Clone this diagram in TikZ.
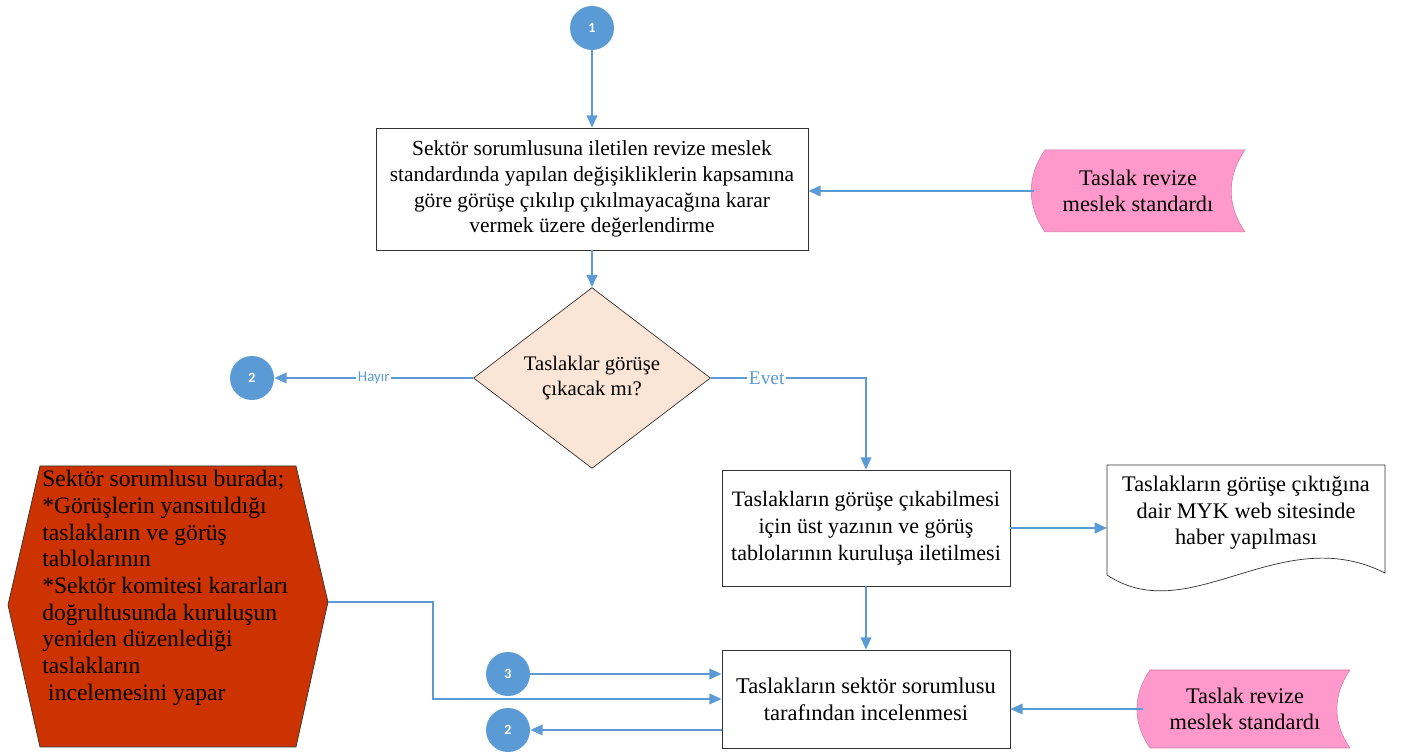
\documentclass[tikz,border=0pt]{standalone}
\usepackage{fontspec}
\setmainfont{Liberation Serif}
\setsansfont{Carlito}
\usepackage{xcolor}
\usetikzlibrary{shapes.geometric,arrows.meta}
\definecolor{flowblue}{RGB}{91,155,213}
\definecolor{draftpink}{RGB}{255,153,204}
\definecolor{askpeach}{RGB}{251,229,214}
\definecolor{noteorange}{RGB}{204,51,0}

\begin{document}
\begin{tikzpicture}[>={Triangle[length=7pt,width=6pt]}]
    \tikzstyle{process} = [rectangle, draw=black!80, fill=white, align=center, inner sep=2pt, font=\rmfamily\fontsize{12.2}{14.7}\selectfont]
    \tikzstyle{question} = [diamond, draw=black!80, fill=askpeach, align=center, inner sep=0pt, minimum width=4.74cm, minimum height=3.24cm, font=\rmfamily\fontsize{11.8}{14.7}\selectfont]
    \tikzstyle{pageref} = [circle, fill=flowblue, text=white, minimum size=0.88cm, inner sep=0pt, font=\sffamily\bfseries\fontsize{8}{9}\selectfont]
    \tikzstyle{draftbox} = [fill=draftpink, draw=draftpink!80!black, line width=0.3pt]
    \tikzstyle{plain} = [align=center, inner sep=0pt, font=\rmfamily\fontsize{12.7}{15}\selectfont]
    \tikzstyle{flow} = [draw=flowblue, line width=1.1pt, ->]

    \useasboundingbox (0,0) rectangle (28.28,15.08);

    % Main column
    \node [process, minimum width=8.64cm, minimum height=2.44cm] (review) at (11.84,11.30) {Sektör sorumlusuna iletilen revize meslek\\standardında yapılan değişikliklerin kapsamına\\göre görüşe çıkılıp çıkılmayacağına karar\\vermek üzere değerlendirme};
    \node [pageref, above of=review, node distance=3.22cm] (start) {1};
    \node [question, below of=review, node distance=3.78cm] (ask) {Taslaklar görüşe\\çıkacak mı?};
    \node [pageref, left of=ask, node distance=6.80cm] (noA) {2};
    \node [process, minimum width=5.76cm, minimum height=2.32cm, font=\rmfamily\fontsize{12.5}{15.5}\selectfont] (handover) at (17.32,4.52) {Taslakların görüşe çıkabilmesi\\için üst yazının ve görüş\\tablolarının kuruluşa iletilmesi};
    \node [process, below of=handover, node distance=3.42cm, minimum width=5.76cm, minimum height=1.96cm, font=\rmfamily\fontsize{12.8}{15.3}\selectfont] (inspect) {Taslakların sektör sorumlusu\\tarafından incelenmesi};
    \node [pageref] (back) at (10.16,1.60) {3};
    \node [pageref] (noB) at (10.16,0.48) {2};

    % Draft standard inputs
    \fill [draftbox] (20.90,12.08) -- (24.90,12.08) to[out=-125,in=125] (24.90,10.44) -- (20.90,10.44) to[out=125,in=-125] cycle;
    \node [plain] (draftA) at (22.76,11.26) {Taslak revize\\meslek standardı};
    \fill [draftbox] (23.00,1.68) -- (27.00,1.68) to[out=-125,in=125] (27.00,0.12) -- (23.00,0.12) to[out=125,in=-125] cycle;
    \node [plain] (draftB) at (24.90,0.90) {Taslak revize\\meslek standardı};

    % Web news document
    \draw [draw=black!80, fill=white] (22.14,3.58) -- (22.14,5.78) -- (27.70,5.78) -- (27.70,3.62) .. controls (25.60,4.68) and (23.80,2.48) .. cycle;
    \node [plain] (news) at (24.92,4.82) {Taslakların görüşe çıktığına\\dair MYK web sitesinde\\haber yapılması};

    % Officer note
    \draw [draw=black!80, fill=noteorange] (0.80,5.76) -- (5.92,5.76) -- (6.56,3.04) -- (5.92,0.14) -- (0.80,0.14) -- (0.16,2.98) -- cycle;
    \coordinate (noteR) at (6.56,3.04);
    \node [anchor=north west, align=left, inner sep=0pt, font=\rmfamily\fontsize{13.4}{15.2}\selectfont] (note) at (0.84,5.68) {Sektör sorumlusu burada;\\*Görüşlerin yansıtıldığı\\taslakların ve görüş\\tablolarının\\*Sektör komitesi kararları\\doğrultusunda kuruluşun\\yeniden düzenlediği\\taslakların\\\hspace{0.25em}incelemesini yapar};

    % Connectors
    \draw [flow] (start) -- (review);
    \draw [flow] (draftA.west -| 20.68,0) -- (draftA.west -| review.east);
    \draw [flow] (review) -- (ask);
    \draw [flow] (ask) -- node [fill=white, text=flowblue, inner sep=1pt, font=\sffamily\fontsize{8.5}{9}\selectfont] {Hayır} (noA);
    \draw [flow] (ask.east) -| node [pos=0.18, fill=white, text=flowblue, inner sep=1pt, font=\rmfamily\fontsize{11}{12}\selectfont] {Evet} (handover.north);
    \draw [flow] (handover.east) -- (22.14,4.52);
    \draw [flow] (handover) -- (inspect);
    \draw [flow] (back) -- (back -| inspect.west);
    \draw [flow] (noteR) -- (8.66,3.04) |- (inspect.west);
    \draw [flow] (noB -| inspect.west) -- (noB);
    \draw [flow] (draftB.west -| 22.86,0) -- (draftB.west -| inspect.east);
\end{tikzpicture}
\end{document}
